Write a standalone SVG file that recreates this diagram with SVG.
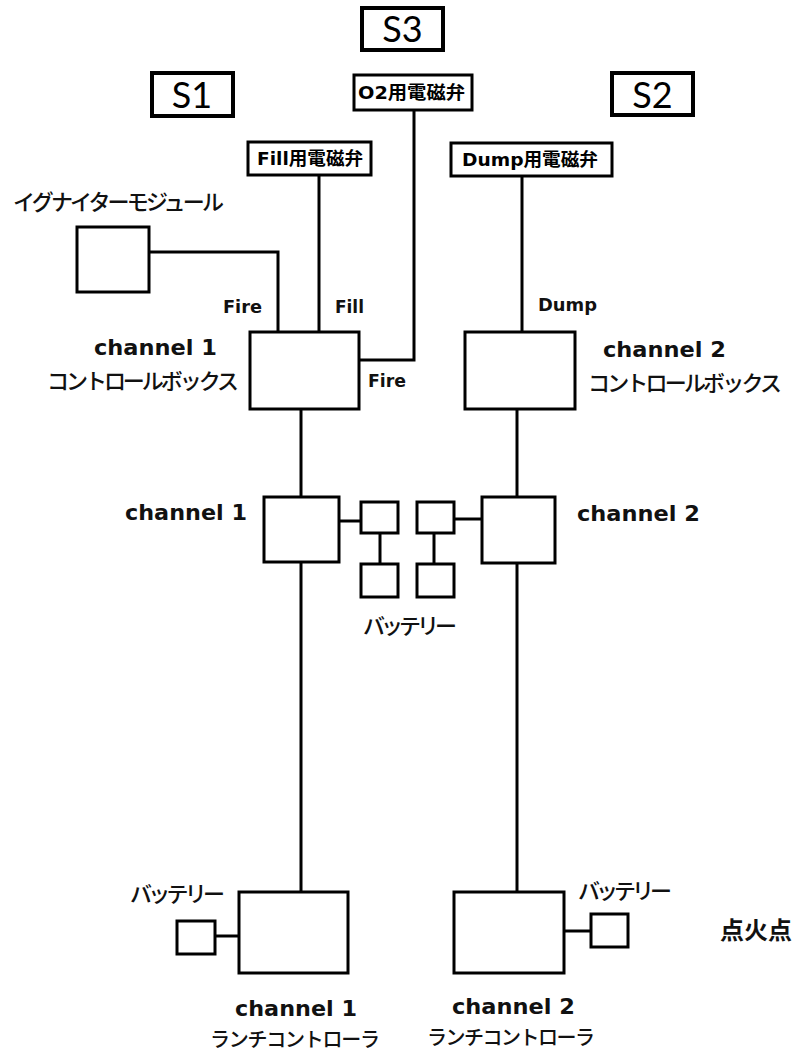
<svg xmlns="http://www.w3.org/2000/svg" width="796" height="1052" viewBox="0 0 796 1052">
<style>
.box{fill:#fff;stroke:#000;stroke-width:3}
.sbox{fill:#fff;stroke:#000;stroke-width:4}
.wire{fill:none;stroke:#000;stroke-width:3}
.s{font-family:Lato,"Liberation Sans",sans-serif;font-size:36px;fill:#000;text-anchor:middle}
.jp{font-family:"Noto Sans CJK JP",sans-serif;font-size:22px;font-weight:500;fill:#111}
.sm{font-size:20px}
.big{font-size:24px;font-weight:bold}
.jpb{font-family:"DejaVu Sans","Noto Sans CJK JP",sans-serif;font-size:18px;font-weight:bold;fill:#000}
.lbl{font-family:"DejaVu Sans",sans-serif;font-size:17px;font-weight:bold;fill:#111}
.ch{font-family:"DejaVu Sans",sans-serif;font-size:22px;font-weight:bold;fill:#111}
</style>
<rect width="796" height="1052" fill="#fff"/>
<g id="connectors">
<polyline class="wire" points="149,252 278,252 278,332"/>
<line class="wire" x1="319" y1="175" x2="319" y2="332"/>
<polyline class="wire" points="414,110 414,360 359,360"/>
<line class="wire" x1="522" y1="176" x2="522" y2="332"/>
<line class="wire" x1="301" y1="409" x2="301" y2="497"/>
<line class="wire" x1="301" y1="562" x2="301" y2="892"/>
<line class="wire" x1="517" y1="409" x2="517" y2="497"/>
<line class="wire" x1="517" y1="563" x2="517" y2="892"/>
<line class="wire" x1="339" y1="521" x2="361" y2="521"/>
<line class="wire" x1="380" y1="533" x2="380" y2="564"/>
<line class="wire" x1="454" y1="519" x2="482" y2="519"/>
<line class="wire" x1="434" y1="533" x2="434" y2="564"/>
<line class="wire" x1="215" y1="936" x2="239" y2="936"/>
<line class="wire" x1="564" y1="931" x2="591" y2="931"/>
</g>
<g id="s3"><rect class="sbox" x="362" y="8" width="81" height="42"/><text class="s" x="402.5" y="42">S3</text></g>
<g id="s1"><rect class="sbox" x="152" y="73" width="81" height="43"/><text class="s" x="192" y="108">S1</text></g>
<g id="s2"><rect class="sbox" x="612" y="73" width="81" height="42"/><text class="s" x="652.5" y="108">S2</text></g>
<g id="o2-valve"><rect class="box" x="354" y="75" width="118" height="35"/><text class="jpb" x="358" y="99" textLength="107" lengthAdjust="spacingAndGlyphs">O2用電磁弁</text></g>
<g id="fill-valve"><rect class="box" x="248" y="142" width="123" height="33"/><text class="jpb" x="257" y="165" textLength="106" lengthAdjust="spacingAndGlyphs">Fill用電磁弁</text></g>
<g id="dump-valve"><rect class="box" x="451" y="143" width="161" height="33"/><text class="jpb" x="462" y="166" textLength="136" lengthAdjust="spacingAndGlyphs">Dump用電磁弁</text></g>
<g id="igniter"><text class="jp" x="13" y="210" textLength="211" lengthAdjust="spacing">イグナイターモジュール</text><rect class="box" x="77" y="227" width="72" height="65"/></g>
<g id="labels">
<text class="lbl" x="223" y="313" textLength="39" lengthAdjust="spacingAndGlyphs">Fire</text>
<text class="lbl" x="335" y="313" textLength="29" lengthAdjust="spacingAndGlyphs">Fill</text>
<text class="lbl" x="368" y="387" textLength="38" lengthAdjust="spacingAndGlyphs">Fire</text>
<text class="lbl" x="538" y="311" textLength="59" lengthAdjust="spacingAndGlyphs">Dump</text>
</g>
<g id="control-box-1"><rect class="box" x="250" y="332" width="109" height="77"/><text class="ch" x="94" y="355" textLength="123" lengthAdjust="spacingAndGlyphs">channel 1</text><text class="jp" x="47" y="389" textLength="192" lengthAdjust="spacing">コントロールボックス</text></g>
<g id="control-box-2"><rect class="box" x="465" y="332" width="110" height="77"/><text class="ch" x="603" y="357" textLength="123" lengthAdjust="spacingAndGlyphs">channel 2</text><text class="jp" x="588" y="391" textLength="194" lengthAdjust="spacing">コントロールボックス</text></g>
<g id="relay-1"><rect class="box" x="264" y="497" width="75" height="65"/><text class="ch" x="125" y="520" textLength="122" lengthAdjust="spacingAndGlyphs">channel 1</text></g>
<g id="relay-2"><rect class="box" x="482" y="497" width="73" height="66"/><text class="ch" x="577" y="521" textLength="123" lengthAdjust="spacingAndGlyphs">channel 2</text></g>
<g id="battery-mid"><rect class="box" x="361" y="502" width="37" height="31"/><rect class="box" x="361" y="564" width="37" height="33"/><rect class="box" x="417" y="502" width="37" height="31"/><rect class="box" x="417" y="564" width="37" height="33"/><text class="jp" x="363" y="634" textLength="94" lengthAdjust="spacing">バッテリー</text></g>
<g id="launch-controller-1"><rect class="box" x="239" y="892" width="109" height="81"/><text class="ch" x="235" y="1016" textLength="122" lengthAdjust="spacingAndGlyphs">channel 1</text><text class="jp sm" x="210" y="1047" textLength="170" lengthAdjust="spacing">ランチコントローラ</text></g>
<g id="battery-1"><rect class="box" x="177" y="921" width="38" height="33"/><text class="jp" x="130" y="902" textLength="95" lengthAdjust="spacing">バッテリー</text></g>
<g id="launch-controller-2"><rect class="box" x="454" y="892" width="110" height="81"/><text class="ch" x="452" y="1014" textLength="123" lengthAdjust="spacingAndGlyphs">channel 2</text><text class="jp sm" x="427" y="1045" textLength="168" lengthAdjust="spacing">ランチコントローラ</text></g>
<g id="battery-2"><rect class="box" x="591" y="914" width="37" height="33"/><text class="jp" x="578" y="899" textLength="94" lengthAdjust="spacing">バッテリー</text></g>
<g id="ignition-point"><text class="jp big" x="720" y="939" textLength="72" lengthAdjust="spacing">点火点</text></g>
</svg>
